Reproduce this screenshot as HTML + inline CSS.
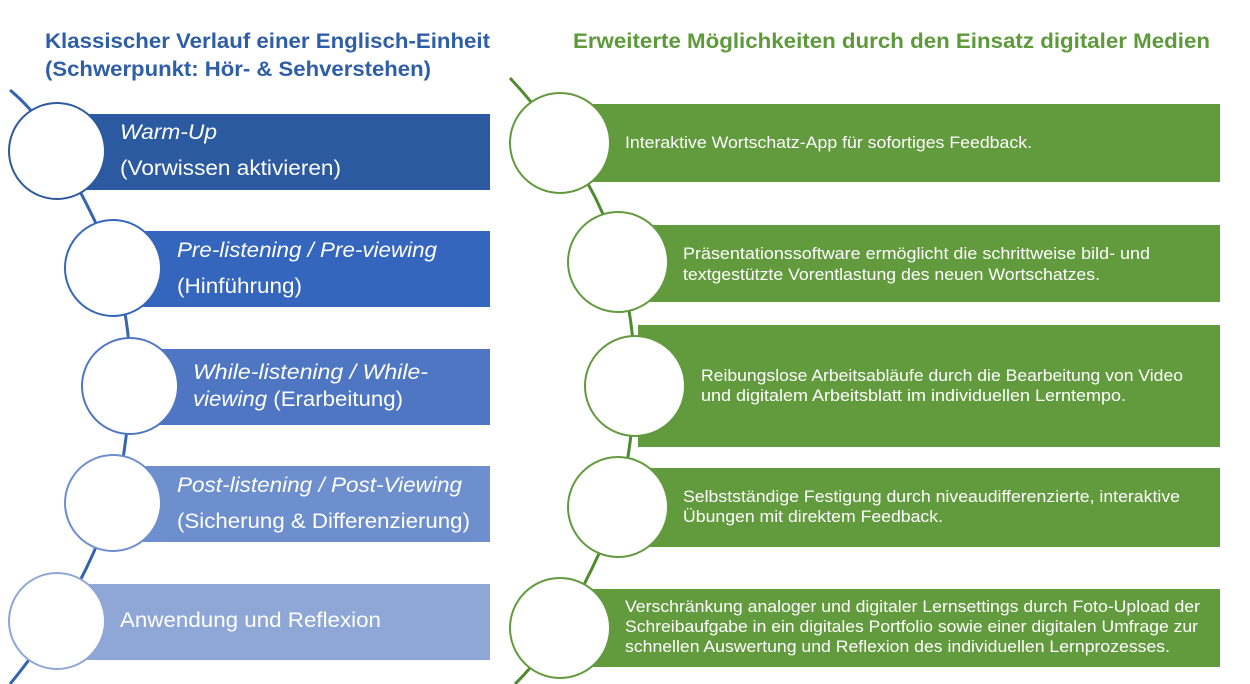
<!DOCTYPE html>
<html><head><meta charset="utf-8"><style>
html,body{margin:0;padding:0;background:#fff;}
svg{display:block;}
text{font-family:"Liberation Sans",sans-serif;}
</style></head><body>
<svg width="1250" height="684" viewBox="0 0 1250 684" xmlns="http://www.w3.org/2000/svg">
<g lengthAdjust="spacingAndGlyphs">
<text x="45" y="48" font-size="21" font-weight="bold" fill="#2e5ea8" textLength="445" lengthAdjust="spacingAndGlyphs">Klassischer Verlauf einer Englisch-Einheit</text>
<text x="45" y="76" font-size="21" font-weight="bold" fill="#2e5ea8" textLength="386" lengthAdjust="spacingAndGlyphs">(Schwerpunkt: Hör- &amp; Sehverstehen)</text>
<text x="573" y="48" font-size="21" font-weight="bold" fill="#5c9a3a" textLength="637" lengthAdjust="spacingAndGlyphs">Erweiterte Möglichkeiten durch den Einsatz digitaler Medien</text>
</g>

<!-- left connector -->
<path d="M10,90 Q40,115 57,150 Q95,215 115,268 Q132,330 130,385 Q128,450 113,503 Q90,570 57,620 Q30,660 10,684" fill="none" stroke="#3563b0" stroke-width="3"/>
<rect x="80" y="114" width="410" height="76" fill="#2c5aa0"/>
<rect x="140" y="231" width="350" height="76" fill="#3566be"/>
<rect x="155" y="349" width="335" height="76" fill="#4f76c2"/>
<rect x="140" y="466" width="350" height="76" fill="#6d8fcd"/>
<rect x="80" y="584" width="410" height="76" fill="#8ea7d6"/>
<circle cx="57" cy="151" r="48" fill="#fff" stroke="#2c5aa0" stroke-width="2"/>
<circle cx="113" cy="268" r="48" fill="#fff" stroke="#3566be" stroke-width="2"/>
<circle cx="130" cy="386" r="48" fill="#fff" stroke="#4f76c2" stroke-width="2"/>
<circle cx="113" cy="503" r="48" fill="#fff" stroke="#6d8fcd" stroke-width="2"/>
<circle cx="57" cy="621" r="48" fill="#fff" stroke="#8ea7d6" stroke-width="2"/>
<g fill="#fff" font-size="21">
<text x="120" y="139" font-style="italic" textLength="97" lengthAdjust="spacingAndGlyphs">Warm-Up</text>
<text x="120" y="175" textLength="221" lengthAdjust="spacingAndGlyphs">(Vorwissen aktivieren)</text>
<text x="177" y="257" font-style="italic" textLength="260" lengthAdjust="spacingAndGlyphs">Pre-listening / Pre-viewing</text>
<text x="177" y="293" textLength="125" lengthAdjust="spacingAndGlyphs">(Hinführung)</text>
<text x="193" y="379" font-style="italic" textLength="235" lengthAdjust="spacingAndGlyphs">While-listening / While-</text>
<text x="193" y="406" textLength="210" lengthAdjust="spacingAndGlyphs"><tspan font-style="italic">viewing</tspan> (Erarbeitung)</text>
<text x="177" y="492" font-style="italic" textLength="285" lengthAdjust="spacingAndGlyphs">Post-listening / Post-Viewing</text>
<text x="177" y="528" textLength="293" lengthAdjust="spacingAndGlyphs">(Sicherung &amp; Differenzierung)</text>
<text x="120" y="627" textLength="261" lengthAdjust="spacingAndGlyphs">Anwendung und Reflexion</text>
</g>

<!-- right connector -->
<path d="M510,78 Q540,110 560,142 Q605,200 618,262 Q635,320 635,386 Q632,450 618,507 Q595,570 560,627 Q535,665 515,684" fill="none" stroke="#4f8a2e" stroke-width="3"/>
<rect x="590" y="104" width="630" height="78" fill="#629a3e"/>
<rect x="650" y="225" width="570" height="77" fill="#629a3e"/>
<rect x="638" y="325" width="582" height="122" fill="#629a3e"/>
<rect x="640" y="468" width="580" height="79" fill="#629a3e"/>
<rect x="590" y="589" width="630" height="78" fill="#629a3e"/>
<circle cx="560" cy="143" r="50" fill="#fff" stroke="#629a3e" stroke-width="2"/>
<circle cx="618" cy="262" r="50" fill="#fff" stroke="#629a3e" stroke-width="2"/>
<circle cx="635" cy="386" r="50" fill="#fff" stroke="#629a3e" stroke-width="2"/>
<circle cx="618" cy="507" r="50" fill="#fff" stroke="#629a3e" stroke-width="2"/>
<circle cx="560" cy="628" r="50" fill="#fff" stroke="#629a3e" stroke-width="2"/>
<g fill="#fff" font-size="16.5">
<text x="625" y="148" textLength="407" lengthAdjust="spacingAndGlyphs">Interaktive Wortschatz-App für sofortiges Feedback.</text>
<text x="683" y="259" textLength="467" lengthAdjust="spacingAndGlyphs">Präsentationssoftware ermöglicht die schrittweise bild- und</text>
<text x="683" y="280" textLength="417" lengthAdjust="spacingAndGlyphs">textgestützte Vorentlastung des neuen Wortschatzes.</text>
<text x="701" y="381" textLength="482" lengthAdjust="spacingAndGlyphs">Reibungslose Arbeitsabläufe durch die Bearbeitung von Video</text>
<text x="701" y="401" textLength="425" lengthAdjust="spacingAndGlyphs">und digitalem Arbeitsblatt im individuellen Lerntempo.</text>
<text x="683" y="502" textLength="497" lengthAdjust="spacingAndGlyphs">Selbstständige Festigung durch niveaudifferenzierte, interaktive</text>
<text x="683" y="522" textLength="260" lengthAdjust="spacingAndGlyphs">Übungen mit direktem Feedback.</text>
<text x="625" y="612" textLength="575" lengthAdjust="spacingAndGlyphs">Verschränkung analoger und digitaler Lernsettings durch Foto-Upload der</text>
<text x="625" y="632" textLength="573" lengthAdjust="spacingAndGlyphs">Schreibaufgabe in ein digitales Portfolio sowie einer digitalen Umfrage zur</text>
<text x="625" y="652" textLength="545" lengthAdjust="spacingAndGlyphs">schnellen Auswertung und Reflexion des individuellen Lernprozesses.</text>
</g>
</svg>
</body></html>
